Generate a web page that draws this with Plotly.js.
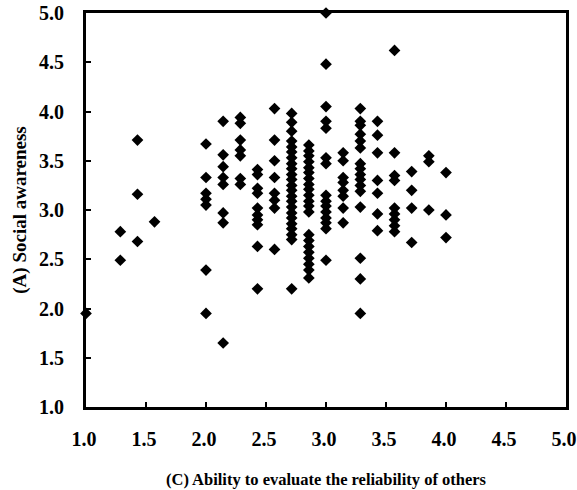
<!DOCTYPE html>
<html>
<head>
<meta charset="utf-8">
<script src="https://cdn.plot.ly/plotly-3.0.1.min.js"></script>
<style>html,body{margin:0;padding:0;background:#fff;}#chart{width:577px;height:490px;}</style>
</head>
<body>
<div id="chart"></div>
<script>
// x levels (Ability to evaluate the reliability of others)
const xLevels = [1.000, 1.286, 1.429, 1.571, 2.000, 2.143, 2.286, 2.429, 2.571, 2.714, 2.857, 3.000, 3.143, 3.286, 3.429, 3.571, 3.714, 3.857, 4.000];
// y values (Social awareness) for each x level
const y_1_000 = [1.95];
const y_1_286 = [2.78, 2.49];
const y_1_429 = [3.71, 3.16, 2.68];
const y_1_571 = [2.88];
const y_2_000 = [3.67, 3.33, 3.17, 3.11, 3.05, 2.39, 1.95];
const y_2_143 = [3.90, 3.56, 3.44, 3.33, 3.26, 2.97, 2.87, 1.65];
const y_2_286 = [3.94, 3.88, 3.71, 3.61, 3.55, 3.32, 3.26];
const y_2_429 = [3.41, 3.36, 3.22, 3.17, 3.02, 2.95, 2.90, 2.85, 2.63, 2.20];
const y_2_571 = [4.03, 3.71, 3.50, 3.33, 3.17, 3.10, 3.02, 2.60];
const y_2_714 = [3.98, 3.89, 3.80, 3.70, 3.64, 3.59, 3.53, 3.47, 3.42, 3.36, 3.31, 3.25, 3.20, 3.14, 3.09, 3.03, 2.97, 2.92, 2.86, 2.81, 2.75, 2.70, 2.20];
const y_2_857 = [3.66, 3.60, 3.55, 3.49, 3.43, 3.38, 3.32, 3.26, 3.21, 3.15, 3.09, 3.04, 2.98, 2.75, 2.69, 2.63, 2.57, 2.51, 2.45, 2.39, 2.31];
const y_3_000 = [5.00, 4.48, 4.05, 3.90, 3.83, 3.53, 3.47, 3.15, 3.09, 3.04, 2.98, 2.92, 2.87, 2.81, 2.49];
const y_3_143 = [3.58, 3.50, 3.33, 3.28, 3.20, 3.14, 3.02, 2.87];
const y_3_286 = [4.03, 3.90, 3.86, 3.77, 3.70, 3.63, 3.47, 3.42, 3.36, 3.31, 3.25, 3.19, 3.03, 2.51, 2.30, 1.95];
const y_3_429 = [3.90, 3.76, 3.58, 3.30, 3.17, 2.96, 2.79];
const y_3_571 = [4.62, 3.58, 3.35, 3.30, 3.02, 2.96, 2.90, 2.84, 2.78];
const y_3_714 = [3.39, 3.20, 3.02, 2.67];
const y_3_857 = [3.55, 3.49, 3.00];
const y_4_000 = [3.38, 2.95, 2.72];

const yColumns = [y_1_000, y_1_286, y_1_429, y_1_571, y_2_000, y_2_143, y_2_286, y_2_429, y_2_571, y_2_714, y_2_857, y_3_000, y_3_143, y_3_286, y_3_429, y_3_571, y_3_714, y_3_857, y_4_000];

const tickVals = [1.0, 1.5, 2.0, 2.5, 3.0, 3.5, 4.0, 4.5, 5.0];
const tickText = ["1.0", "1.5", "2.0", "2.5", "3.0", "3.5", "4.0", "4.5", "5.0"];

const xs = [], ys = [];
xLevels.forEach((xv, i) => { yColumns[i].forEach(yv => { xs.push(xv); ys.push(yv); }); });

const fontFam = '"Liberation Serif", "Times New Roman", serif';
const trace = {
  type: 'scatter', mode: 'markers', x: xs, y: ys, cliponaxis: false,
  marker: {symbol: 'diamond', size: 9, color: '#000', line: {width: 0}},
  hoverinfo: 'skip'
};
const axisCommon = {
  range: [1, 5], tickvals: tickVals, ticktext: tickText,
  showgrid: false, zeroline: false, showline: true, linecolor: '#000', linewidth: 3,
  mirror: true, ticks: 'inside', ticklen: 5, tickwidth: 2, tickcolor: '#000',
  ticklabeloverflow: 'allow',
  tickfont: {family: fontFam, size: 20, color: '#000', weight: 'bold'}
};
const layout = {
  width: 577, height: 490,
  margin: {l: 86, r: 11, t: 13, b: 83},
  paper_bgcolor: '#fff', plot_bgcolor: '#fff', showlegend: false,
  xaxis: Object.assign({}, axisCommon, {
    ticklabelstandoff: 12, ticklabelshift: -2,
    title: {text: '<b>(C) Ability to evaluate the reliability of others</b>', font: {family: fontFam, size: 16.5, color: '#000'}, standoff: 25}
  }),
  yaxis: Object.assign({}, axisCommon, {
    ticklabelstandoff: 15,
    title: {text: '<b>(A) Social awareness</b>', font: {family: fontFam, size: 19, color: '#000'}, standoff: 8}
  })
};
Plotly.newPlot('chart', [trace], layout, {displayModeBar: false, staticPlot: true});
</script>
</body>
</html>
